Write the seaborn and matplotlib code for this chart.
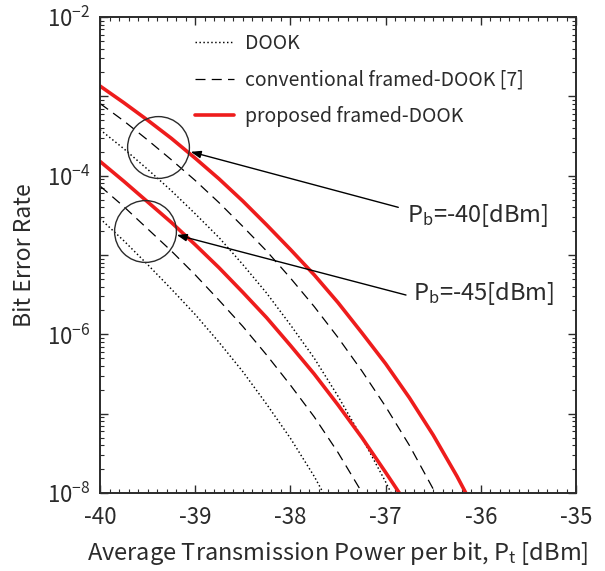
import matplotlib
matplotlib.use("Agg")
import matplotlib.pyplot as plt
from matplotlib.lines import Line2D
from matplotlib.ticker import (FixedLocator, FuncFormatter, LogLocator,
                               MultipleLocator, NullFormatter)
import numpy as np
import seaborn as sns

# ---- data: average transmission power per bit [dBm] vs log10(bit error rate) ----
# Pb = -40 dBm
dook_40_pt = [-40.00, -39.75, -39.50, -39.25, -39.00, -38.75, -38.50, -38.25,
              -38.00, -37.75, -37.50, -37.25, -37.00, -36.90]
dook_40_logber = [-3.42, -3.66, -3.92, -4.19, -4.48, -4.78, -5.12, -5.48,
                  -5.88, -6.30, -6.78, -7.30, -7.86, -8.10]

conv_40_pt = [-40.00, -39.75, -39.50, -39.25, -39.00, -38.75, -38.50, -38.25,
              -38.00, -37.75, -37.50, -37.25, -37.00, -36.75, -36.50, -36.45]
conv_40_logber = [-3.09, -3.31, -3.55, -3.80, -4.06, -4.34, -4.64, -4.95,
                  -5.29, -5.65, -6.04, -6.46, -6.91, -7.40, -7.95, -8.07]

prop_40_pt = [-40.00, -39.75, -39.50, -39.25, -39.00, -38.75, -38.50, -38.25,
              -38.00, -37.75, -37.50, -37.25, -37.00, -36.75, -36.50, -36.25, -36.10]
prop_40_logber = [-2.87, -3.08, -3.30, -3.53, -3.78, -4.04, -4.32, -4.62,
                  -4.93, -5.25, -5.60, -5.98, -6.37, -6.80, -7.27, -7.79, -8.13]

# Pb = -45 dBm
dook_45_pt = [-40.00, -39.75, -39.50, -39.25, -39.00, -38.75, -38.50, -38.25,
              -38.00, -37.75, -37.60]
dook_45_logber = [-4.54, -4.82, -5.12, -5.43, -5.75, -6.10, -6.47, -6.88,
                  -7.31, -7.79, -8.12]

conv_45_pt = [-40.00, -39.75, -39.50, -39.25, -39.00, -38.75, -38.50, -38.25,
              -38.00, -37.75, -37.50, -37.25, -37.20]
conv_45_logber = [-4.13, -4.39, -4.67, -4.95, -5.25, -5.57, -5.90, -6.26,
                  -6.64, -7.04, -7.49, -7.99, -8.09]

prop_45_pt = [-40.00, -39.75, -39.50, -39.25, -39.00, -38.75, -38.50, -38.25,
              -38.00, -37.75, -37.50, -37.25, -37.00, -36.85]
prop_45_logber = [-3.82, -4.07, -4.33, -4.59, -4.87, -5.16, -5.47, -5.79,
                  -6.14, -6.50, -6.89, -7.30, -7.74, -8.01]

legend_labels = ["DOOK", "conventional framed-DOOK [7]", "proposed framed-DOOK"]
pb_labels = ["P$_\\mathregular{b}$=-40[dBm]", "P$_\\mathregular{b}$=-45[dBm]"]

# circled groups and their callouts
circle_pt = [-39.388, -39.527]
circle_ber = [2.28e-4, 2.0e-5]
arrow_tip_pt = [-39.047, -39.194]
arrow_tip_ber = [2.0e-4, 1.79e-5]
arrow_tail_pt = [-36.867, -36.786]
arrow_tail_ber = [3.99e-5, 3.13e-6]
label_pt = [-36.775, -36.712]
label_ber = [3.19e-5, 3.27e-6]

x_ticks = [-40, -39, -38, -37, -36, -35]
y_ticks = [1e-8, 1e-7, 1e-6, 1e-5, 1e-4, 1e-3, 1e-2]

# ---- style ----
sns.set_style("ticks")
FONT = "Noto Sans CJK JP"
plt.rcParams["font.family"] = [FONT, "DejaVu Sans"]
plt.rcParams["mathtext.fontset"] = "custom"
plt.rcParams["mathtext.rm"] = FONT
plt.rcParams["mathtext.it"] = FONT
plt.rcParams["mathtext.bf"] = FONT
plt.rcParams["mathtext.fallback"] = "stixsans"
plt.rcParams["axes.unicode_minus"] = False

INK = "#2b2b2b"
RED = "#ee1c1c"
DOT = (0, (1.0, 1.7))
DASH = (0, (8.0, 5.0))

fig = plt.figure(figsize=(6.05, 5.71), dpi=100)
ax = fig.add_axes([0.1653, 0.1366, 0.7868, 0.8336])

curves = [
    (dook_40_pt, dook_40_logber, "black", 1.05, DOT),
    (conv_40_pt, conv_40_logber, "black", 0.9, DASH),
    (prop_40_pt, prop_40_logber, RED, 2.6, "-"),
    (dook_45_pt, dook_45_logber, "black", 1.05, DOT),
    (conv_45_pt, conv_45_logber, "black", 0.9, DASH),
    (prop_45_pt, prop_45_logber, RED, 2.6, "-"),
]
for xs, logs, c, lw, ls in curves:
    ber = np.power(10.0, np.asarray(logs))
    sns.lineplot(x=xs, y=ber, ax=ax, color=c, lw=lw, linestyle=ls,
                 estimator=None, sort=False, legend=False)

ax.set_yscale("log")
ax.set_xlim(-40, -35)
ax.set_ylim(1e-8, 1e-2)

# circles around each Pb group
ax.plot(circle_pt, circle_ber, "o", ms=44.5, mfc="none", mec=INK, mew=1.0,
        linestyle="none")

for i in range(2):
    ax.annotate("", xy=(arrow_tip_pt[i], arrow_tip_ber[i]),
                xytext=(arrow_tail_pt[i], arrow_tail_ber[i]),
                arrowprops=dict(arrowstyle="-|>,head_length=0.6,head_width=0.22",
                                color="black", lw=1.0, shrinkA=0, shrinkB=0))
    ax.text(label_pt[i], label_ber[i], pb_labels[i], ha="left", va="center",
            fontsize=17, color=INK)

# axes formatting
ax.xaxis.set_major_locator(FixedLocator(x_ticks))
ax.xaxis.set_minor_locator(MultipleLocator(0.1))
ax.yaxis.set_major_locator(FixedLocator(y_ticks))
ax.yaxis.set_minor_locator(LogLocator(base=10, subs=np.arange(2, 10)))
ax.yaxis.set_minor_formatter(NullFormatter())
ax.yaxis.set_major_formatter(FuncFormatter(
    lambda v, _: "$\\mathregular{10^{-%d}}$" % round(-np.log10(v))
    if round(np.log10(v)) % 2 == 0 else ""))
ax.xaxis.set_major_formatter(FuncFormatter(lambda v, _: "%d" % v))

ax.tick_params(which="both", direction="in", top=True, right=True,
               color=INK, labelcolor=INK, labelsize=16)
ax.tick_params(which="major", length=6, width=1.0)
ax.tick_params(axis="x", which="major", pad=9)
ax.tick_params(axis="y", which="major", pad=7)
ax.tick_params(which="minor", length=3, width=0.8)
for s in ax.spines.values():
    s.set_color(INK)
    s.set_linewidth(1.4)

ax.set_xlabel("Average Transmission Power per bit, P$_\\mathregular{t}$ [dBm]",
              fontsize=17, color=INK, labelpad=8)
ax.set_ylabel("Bit Error Rate", fontsize=16.5, color=INK, labelpad=8)

handles = [
    Line2D([], [], color="black", lw=1.05, linestyle=DOT),
    Line2D([], [], color="black", lw=0.9, linestyle=DASH),
    Line2D([], [], color=RED, lw=2.6),
]
ax.legend(handles, legend_labels, loc="upper left", bbox_to_anchor=(0.2, 0.966),
          frameon=False, fontsize=14, handlelength=2.0, handletextpad=0.55,
          labelspacing=0.78, borderpad=0, borderaxespad=0, labelcolor=INK)

fig.savefig("out.png", dpi=100)
